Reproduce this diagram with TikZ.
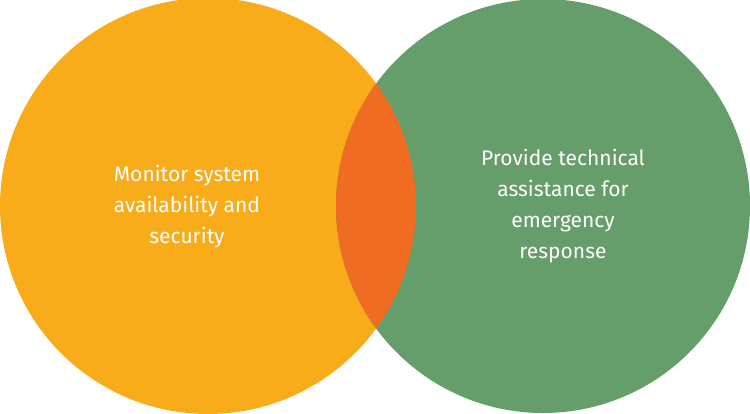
\documentclass[tikz,border=0pt]{standalone}
\usepackage{fontspec}
\setmainfont{Fira Sans}
\definecolor{org}{HTML}{F9AC1A}
\definecolor{grn}{HTML}{659E6A}
\definecolor{mix}{HTML}{F06C22}
\begin{document}
\begin{tikzpicture}[x=1pt,y=-1pt,
  lbl/.style={text=white,align=center,font=\fontsize{21}{31}\selectfont}]
\useasboundingbox (0,0) rectangle (750,413);
\fill[org] (208,206) circle (208);
\fill[grn] (543,206) circle (207);
\begin{scope}
\clip (208,206) circle (208);
\fill[mix] (543,206) circle (207);
\end{scope}
\node[lbl] (l) at (187,207) {Monitor system\\availability and\\security};
\node[lbl] (r) at (563,206) {Provide technical\\assistance for\\emergency\\response};
\end{tikzpicture}
\end{document}
